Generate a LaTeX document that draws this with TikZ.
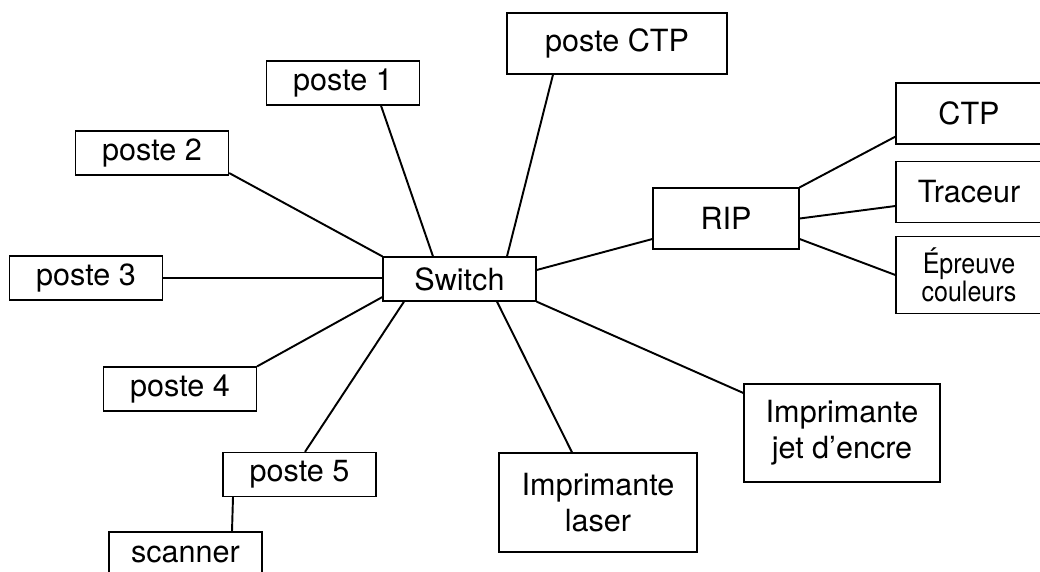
\documentclass[tikz,border=0pt]{standalone}
\usepackage{fontspec}
\setmainfont{TeX Gyre Heros}
\newfontfamily\narrowfont[FakeStretch=0.89]{TeX Gyre Heros}
\begin{document}
\begin{tikzpicture}[box/.style={draw,line width=0.7pt,inner sep=0pt,align=center,font=\fontsize{17.4}{20.5}\selectfont},
  poste/.style={box,minimum width=3.06cm,minimum height=0.88cm},
  wire/.style={line width=1.1pt}]
\useasboundingbox (0,0) rectangle (20.8,-11.42);
\node(sw) at (9.19,-5.58) [poste]{Switch};
\node(p1) at (6.86,-1.66) [poste]{poste 1};
\node(p2) at (3.04,-3.06) [poste]{poste 2};
\node(p3) at (1.72,-5.56) [poste]{poste 3};
\node(p4) at (3.60,-7.78) [poste]{poste 4};
\node(p5) at (5.99,-9.49) [poste]{poste 5};
\node(scan) at (3.71,-11.08) [poste]{scanner};
\node(pctp) at (12.34,-0.87) [box,minimum width=4.4cm,minimum height=1.22cm]{poste CTP};
\node(rip) at (14.52,-4.37) [box,minimum width=2.92cm,minimum height=1.22cm]{RIP};
\node(ctp) at (19.38,-2.27) [box,minimum width=2.92cm,minimum height=1.22cm]{CTP};
\node(trac) at (19.38,-3.84) [box,minimum width=2.92cm,minimum height=1.22cm]{Traceur};
\node(epr) at (19.38,-5.50) [box,minimum width=2.92cm,minimum height=1.54cm,font=\narrowfont\fontsize{16}{14.2}\selectfont]{Épreuve\\couleurs};
\node(laser) at (11.96,-10.05) [box,minimum width=3.96cm,minimum height=1.98cm]{Imprimante\\laser};
\node(jet) at (16.84,-8.66) [box,minimum width=3.92cm,minimum height=1.96cm]{Imprimante\\jet d’encre};

\draw [wire] ([xshift=0.76cm]p1.south) -- ([xshift=-0.53cm]sw.north);
\draw [wire] ([yshift=-0.4cm]p2.east) -- (sw.north west);
\draw [wire] (p3.east) -- (p3.east -| sw.west);
\draw [wire] ([xshift=-1.28cm]pctp.south) -- ([xshift=0.95cm]sw.north);
\draw [wire] ([yshift=-0.41cm]rip.west) -- ([yshift=0.18cm]sw.east);
\draw [wire] (rip.north east) -- ([yshift=0.16cm]ctp.south west);
\draw [wire] (rip.east) -- ([yshift=-0.28cm]trac.west);
\draw [wire] ([yshift=-0.41cm]rip.east) -- (epr.west);
\draw [wire] ([yshift=-0.36cm]sw.west) -- (p4.north east);
\draw [wire] ([xshift=-1.11cm]sw.south) -- ([xshift=0.11cm]p5.north);
\draw [wire] ([xshift=0.75cm]sw.south) -- ([xshift=-0.52cm]laser.north);
\draw [wire] (sw.south east) -- ([yshift=0.8cm]jet.west);
\draw [wire] ([xshift=-1.33cm]p5.south) -- ([xshift=0.93cm]scan.north);

\end{tikzpicture}
\end{document}
